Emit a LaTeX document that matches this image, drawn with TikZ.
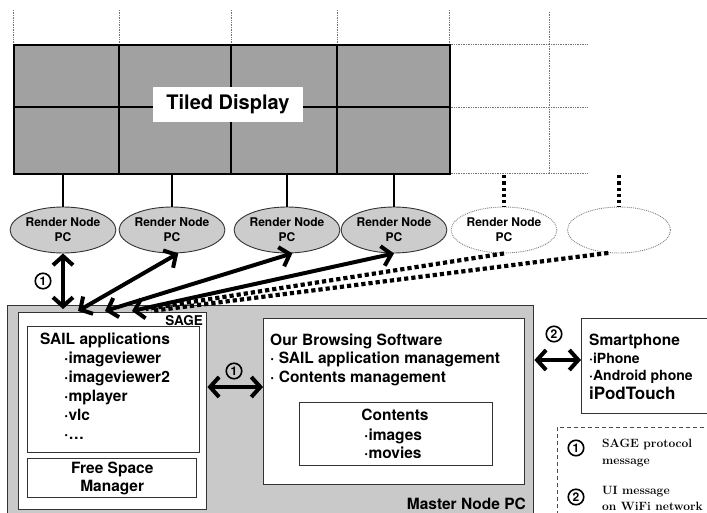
\documentclass[tikz,border=0pt]{standalone}
\usepackage{fontspec}
\setsansfont{TeX Gyre Heros}
\usetikzlibrary{arrows.meta,shapes.geometric}

\newcommand{\fsz}[2]{\fontsize{#1}{#2}\selectfont}

\tikzset{
  lbl/.style={inner sep=0pt, font=\sffamily\bfseries\fsz{15.5}{18}},
  small/.style={inner sep=0pt, font=\sffamily\bfseries\fsz{14}{16}},
  legendtext/.style={inner sep=0pt, font=\rmfamily\bfseries\fsz{12}{14}},
  render/.style={ellipse, draw=black!80, line width=0.9pt, fill=black!20,
    minimum width=103pt, minimum height=46pt, inner sep=0pt, align=center,
    font=\sffamily\bfseries\fsz{12}{15}},
  spare/.style={render, fill=white, draw=black!50, densely dotted},
  box/.style={draw=black!80, line width=1.4pt, fill=white, inner sep=0pt,
    anchor=north west},
  num/.style={circle, draw, line width=1.6pt, inner sep=0pt, minimum size=15.5pt,
    font=\sffamily\bfseries\fsz{12}{12}},
  wire/.style={line width=2.8pt},
  ghost/.style={line width=3.2pt, dash pattern=on 3.2pt off 3pt},
  ghostlink/.style={line width=4.2pt, dash pattern=on 4.2pt off 3pt},
  link/.style={line width=4pt,
    {Straight Barb[length=9pt,width=20pt]}-{Straight Barb[length=9pt,width=20pt]}},
  faint/.style={draw=black!55, line width=0.7pt, densely dotted},
}

\begin{document}
\begin{tikzpicture}[x=1pt, y=-1pt]
\useasboundingbox (0,0) rectangle (707,513);
\clip (0,0) rectangle (707,513);

% display wall, unused columns dotted
\foreach \x in {13,119,231,337,449} \draw[faint] (\x,10) -- (\x,44);
\foreach \y in {44,107,173} \draw[faint] (449,\y) -- (588,\y);
\draw[faint] (549,12) -- (549,173);
\node[draw, line width=2.2pt, fill=black!37, inner sep=0pt, anchor=north west,
  minimum width=436pt, minimum height=129pt] (display) at (13,44) {};
\foreach \x in {119,231,337} \draw[line width=2.2pt] (\x,44) -- (\x,173);
\draw[line width=2.6pt] (13,107) -- (449,107);
\node[fill=white, minimum width=150pt, minimum height=35pt, inner sep=0pt,
  font=\sffamily\bfseries\fsz{20}{20}] (title) at (228,104.5) {Tiled Display};

% render nodes
\node[render] (r1) at (63,230)  {Render Node\\PC};
\node[render] (r2) at (172,230) {Render Node\\PC};
\node[render] (r3) at (287,230) {Render Node\\PC};
\node[render] (r4) at (394,230) {Render Node\\PC};
\node[spare]  (r5) at (504,230) {Render Node\\PC};
\node[spare]  (r6) at (619,230) {};
\foreach \n in {1,...,4} \draw[wire] (r\n.north |- display.south) -- (r\n.north);
\foreach \n in {5,6} \draw[ghost] (r\n.north |- display.south) -- (r\n.north);

% master node
\node[box, fill=black!21, minimum width=526pt, minimum height=215pt] (master) at (7,305) {};
\node[lbl, anchor=base east] at (526,509.5) {Master Node PC};

\node[box, minimum width=188pt, minimum height=197pt] (sage) at (18,312) {};
\node[lbl, anchor=base east, font=\sffamily\bfseries\fsz{13.5}{14}] at (203,325) {SAGE};
\node[box, minimum width=172pt, minimum height=126pt] (sail) at (27,326) {};
\node[lbl, anchor=base west] at (40,344) {SAIL applications};
\foreach \app [count=\i] in {imageviewer,imageviewer2,mplayer,vlc,\ldots}
  \node[lbl, anchor=base west] at (64,344+19*\i) {·\app};
\node[box, lbl, align=center, minimum width=169pt, minimum height=39pt] (fsm) at (27,458)
  {Free Space\\Manager};

\node[box, minimum width=261pt, minimum height=166pt] (browse) at (263,318) {};
\node[lbl, anchor=base west] at (270,345) {Our Browsing Software};
\node[lbl, anchor=base west] at (270,363) {· SAIL application management};
\node[lbl, anchor=base west] at (270,382) {· Contents management};
\node[box, minimum width=193pt, minimum height=63pt] (contents) at (299,402) {};
\node[lbl, anchor=base] at (395,420) {Contents};
\node[lbl, anchor=base west] at (364,440) {·images};
\node[lbl, anchor=base west] at (364,458) {·movies};

% smartphone
\node[box, minimum width=140pt, minimum height=95pt] (phone) at (581,318) {};
\node[lbl, anchor=base west] at (589,345) {Smartphone};
\node[small, anchor=base west] at (589,363) {·iPhone};
\node[small, anchor=base west] at (589,380) {·Android phone};
\node[lbl, anchor=base west, font=\sffamily\bfseries\fsz{17}{17}] at (589,399) {iPodTouch};

% messages
\coordinate (s1) at (63,309);
\coordinate (s2) at (78,311);
\coordinate (s3) at (105,311);
\coordinate (s4) at (132,311);
\coordinate (s5) at (146,309);
\coordinate (s6) at (151,311);
\draw[link] (r1.south) -- (s1);
\draw[link] (r2.-75) -- (s2);
\draw[link] (r3.-77) -- (s3);
\draw[link] (r4.south) -- (s4);
\draw[ghostlink] (r5.south) -- (s5);
\draw[ghostlink] (r6.-115) -- (s6);
\node[num] (n1) at (43,281) {1};

\coordinate (a1) at (0,387);
\draw[link] (sage.east |- a1) -- (browse.west |- a1);
\node[num] (n2) at (234,371) {1};
\coordinate (a2) at (0,360);
\draw[link] (master.east |- a2) -- (phone.west |- a2);
\node[num] (n3) at (554,334) {2};

% legend
\node[draw=black!70, line width=0.8pt, dash pattern=on 4pt off 3pt, inner sep=0pt,
  anchor=north west, minimum width=160pt, minimum height=100pt] (legend) at (557,427) {};
\node[num] (k1) at (576,448) {1};
\node[num] (k2) at (576,497) {2};
\node[legendtext, anchor=base west] at (602,447) {SAGE protocol};
\node[legendtext, anchor=base west] at (602,464) {message};
\node[legendtext, anchor=base west] at (602,494) {UI message};
\node[legendtext, anchor=base west] at (602,510) {on WiFi network};
\end{tikzpicture}
\end{document}
